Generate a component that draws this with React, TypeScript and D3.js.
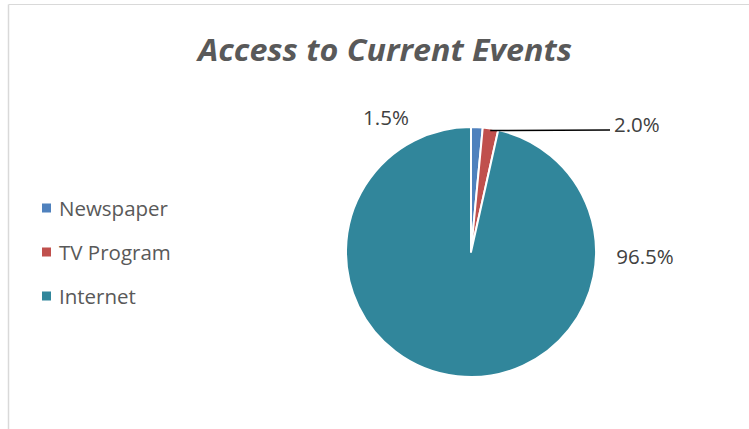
import * as d3 from 'd3';
import React, { useEffect, useRef } from 'react';

const categories = ['Newspaper', 'TV Program', 'Internet'];
const values = [1.5, 2.0, 96.5];
const valueLabels = ['1.5%', '2.0%', '96.5%'];
const colors = ['#4F81BD', '#C0504D', '#31869B'];

const WIDTH = 749;
const HEIGHT = 429;

const App: React.FC = () => {
  const ref = useRef<SVGSVGElement | null>(null);

  useEffect(() => {
    if (!ref.current) return;
    const svg = d3.select(ref.current);
    svg.selectAll('*').remove();

    const font = '"Open Sans", "Noto Sans", sans-serif';

    // chart frame (only top and left edges visible)
    svg.append('line').attr('x1', 8.5).attr('x2', WIDTH).attr('y1', 4.5).attr('y2', 4.5)
      .attr('stroke', '#d9d9d9').attr('stroke-width', 1);
    svg.append('line').attr('x1', 8.5).attr('x2', 8.5).attr('y1', 4.5).attr('y2', HEIGHT)
      .attr('stroke', '#d9d9d9').attr('stroke-width', 1.5);

    // title
    svg.append('text')
      .attr('x', 385).attr('y', 61)
      .attr('text-anchor', 'middle')
      .attr('font-family', font)
      .attr('font-size', 30)
      .attr('font-weight', 'bold')
      .attr('font-style', 'italic')
      .attr('fill', '#595959')
      .attr('textLength', 374)
      .attr('lengthAdjust', 'spacingAndGlyphs')
      .text('Access to Current Events');

    const cx = 471;
    const cy = 252;
    const r = 125;

    const data = categories.map((c, i) => ({ name: c, value: values[i], label: valueLabels[i], color: colors[i] }));
    const pie = d3.pie<any>().value((d) => d.value).sort(null);
    const arcs = pie(data);
    const arc = d3.arc<any>().innerRadius(0).outerRadius(r);

    const g = svg.append('g').attr('transform', `translate(${cx},${cy})`);
    g.selectAll('path')
      .data(arcs)
      .enter()
      .append('path')
      .attr('d', arc as any)
      .attr('fill', (d) => d.data.color)
      .attr('stroke', '#fff')
      .attr('stroke-width', 2)
      .attr('stroke-linejoin', 'round');

    // leader line for TV Program label
    const tv = arcs[1];
    const tvMid = (tv.startAngle + tv.endAngle) / 2;
    const lx = Math.sin(tvMid) * (r - 2);
    const ly = -Math.cos(tvMid) * (r - 2);
    g.append('polyline')
      .attr('points', `${lx},${ly} ${610 - cx},${130 - cy}`)
      .attr('fill', 'none')
      .attr('stroke', '#000')
      .attr('stroke-width', 1.5);

    // data labels
    const labelPos: [number, number, string][] = [
      [386, 125, 'middle'],
      [614, 132, 'start'],
      [645, 264, 'middle'],
    ];
    data.forEach((d, i) => {
      svg.append('text')
        .attr('x', labelPos[i][0]).attr('y', labelPos[i][1])
        .attr('text-anchor', labelPos[i][2])
        .attr('font-family', font)
        .attr('font-size', 20.5)
        .attr('fill', '#404040')
        .text(d.label);
    });

    // legend
    const legend = svg.append('g').attr('transform', 'translate(42, 208)');
    data.forEach((d, i) => {
      const row = legend.append('g').attr('transform', `translate(0, ${i * 44})`);
      row.append('rect').attr('x', 0).attr('y', -4.5).attr('width', 9).attr('height', 9).attr('fill', d.color);
      row.append('text')
        .attr('x', 17).attr('y', 7.5)
        .attr('font-family', font)
        .attr('font-size', 20.5)
        .attr('fill', '#595959')
        .text(d.name);
    });
  }, []);

  return <svg ref={ref} width={WIDTH} height={HEIGHT} style={{ position: 'absolute', left: 0, top: 0 }}></svg>;
};

export default App;
